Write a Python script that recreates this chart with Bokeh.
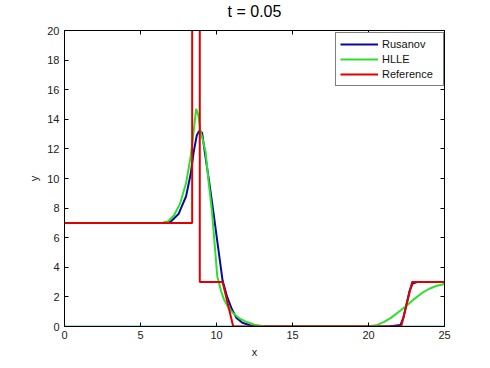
from bokeh.plotting import figure
from bokeh.models import LinearAxis, Range1d, Legend, LegendItem, FixedTicker, CustomLabelingPolicy
from bokeh.embed import file_html
from bokeh.resources import INLINE

# ---- data ----
x_ticks = [0, 5, 10, 15, 20, 25]
y_ticks = [0, 2, 4, 6, 8, 10, 12, 14, 16, 18, 20]

x_ref = [0, 8.4, 8.4, 8.9, 8.9, 10.4, 11.1, 22.15, 22.87, 25]
y_ref = [7, 7, 40, 40, 3, 3, 0, 0, 3, 3]

x_rus = [0, 6.5, 7.0, 7.5, 8.0, 8.3, 8.5, 8.7, 8.85, 9.05, 9.2, 9.5, 9.8, 10.1, 10.4,
         10.7, 11.0, 11.3, 11.7, 12.2, 13.0, 21.3, 22.1, 22.3, 22.5, 22.7, 22.9, 23.2, 25]
y_rus = [7, 7, 7.1, 7.6, 8.8, 10.3, 11.8, 12.9, 13.2, 13.1, 12.0, 9.9, 7.7, 5.4, 3.1,
         2.0, 1.2, 0.6, 0.25, 0.08, 0, 0, 0.1, 0.6, 1.5, 2.4, 2.9, 3.0, 3.0]

x_hlle = [0, 6.4, 6.8, 7.2, 7.6, 8.0, 8.3, 8.5, 8.66, 8.8, 8.95, 9.1, 9.28, 9.5, 9.7, 9.9,
          10.05, 10.3, 10.5, 10.8, 11.1, 11.5, 12.0, 12.5, 13.2, 19.9, 20.5, 21.0, 21.5,
          22.0, 22.5, 23.0, 23.5, 24.0, 24.5, 25]
y_hlle = [7, 7, 7.1, 7.5, 8.3, 9.7, 11.5, 13.2, 14.7, 14.3, 13.2, 12.6, 11.8, 9.6, 7.8, 5.3,
          3.4, 2.4, 1.8, 1.25, 0.9, 0.55, 0.3, 0.12, 0, 0, 0.08, 0.3, 0.6,
          1.0, 1.4, 1.85, 2.25, 2.55, 2.75, 2.87]

x_base = [0, 25]
y_base = [0, 0]

title_text = "t = 0.05"

FONT = "Liberation Sans"

p = figure(width=482, height=360, output_backend="svg", toolbar_location=None,
           x_range=Range1d(0, 25), y_range=Range1d(0, 20),
           min_border_left=64, min_border_right=38, min_border_top=28, min_border_bottom=33,
           title=title_text)
p.title.align = "center"
p.title.text_font = FONT
p.title.text_font_size = "16px"
p.title.text_font_style = "normal"
p.title.text_color = "black"
p.title.standoff = 0
p.title.offset = 0
p.title.text_line_height = 0.8
p.xgrid.visible = False
p.ygrid.visible = False
p.outline_line_color = "black"
p.outline_line_width = 1
p.background_fill_color = "white"
p.border_fill_color = "white"

base = p.line(x_base, y_base, line_color="#4fc4c4", line_width=2)
r_rus = p.line(x_rus, y_rus, line_color="#0a0a9a", line_width=2)
r_hlle = p.line(x_hlle, y_hlle, line_color="#2ee02e", line_width=2)
r_ref = p.line(x_ref, y_ref, line_color="#e00000", line_width=2)

for ax in (p.xaxis[0], p.yaxis[0]):
    ax.major_tick_in = 4
    ax.major_tick_out = 0
    ax.minor_tick_line_color = None
    ax.axis_line_color = "black"
    ax.major_tick_line_color = "black"
    ax.major_label_text_font = FONT
    ax.major_label_text_font_size = "11px"
    ax.major_label_text_color = "#222222"
    ax.axis_label_text_font = FONT
    ax.axis_label_text_font_size = "11px"
    ax.axis_label_text_font_style = "normal"
    ax.axis_label_text_color = "#222222"

p.xaxis[0].ticker = FixedTicker(ticks=x_ticks)
p.yaxis[0].ticker = FixedTicker(ticks=y_ticks)
p.xaxis[0].axis_label = "x"
p.yaxis[0].axis_label = "y"
p.xaxis[0].major_label_standoff = 4
p.yaxis[0].major_label_standoff = 5
p.xaxis[0].axis_label_standoff = 4
p.yaxis[0].axis_label_standoff = 4

no_labels = CustomLabelingPolicy(code="return new Set()")
top = LinearAxis(ticker=FixedTicker(ticks=x_ticks), major_tick_in=4, major_tick_out=0,
                 minor_tick_line_color=None, major_label_policy=no_labels,
                 major_label_standoff=0, axis_label_standoff=0,
                 axis_line_color="black")
right = LinearAxis(ticker=FixedTicker(ticks=y_ticks), major_tick_in=4, major_tick_out=0,
                   minor_tick_line_color=None, major_label_policy=no_labels,
                   major_label_standoff=0, axis_label_standoff=0,
                   axis_line_color="black")
p.add_layout(top, "above")
p.add_layout(right, "right")

legend = Legend(items=[LegendItem(label="Rusanov", renderers=[r_rus]),
                       LegendItem(label="HLLE", renderers=[r_hlle]),
                       LegendItem(label="Reference", renderers=[r_ref])],
                location=(271, 240))
legend.label_text_font = FONT
legend.label_text_font_size = "11px"
legend.label_text_color = "#111111"
legend.border_line_color = "black"
legend.border_line_width = 1
legend.glyph_width = 38
legend.glyph_height = 14
legend.label_height = 14
legend.label_width = 57
legend.label_standoff = 4
legend.padding = 4
legend.spacing = 1
legend.margin = 0
legend.background_fill_alpha = 1
p.add_layout(legend, "center")

open("out.html", "w").write(file_html(p, INLINE))
